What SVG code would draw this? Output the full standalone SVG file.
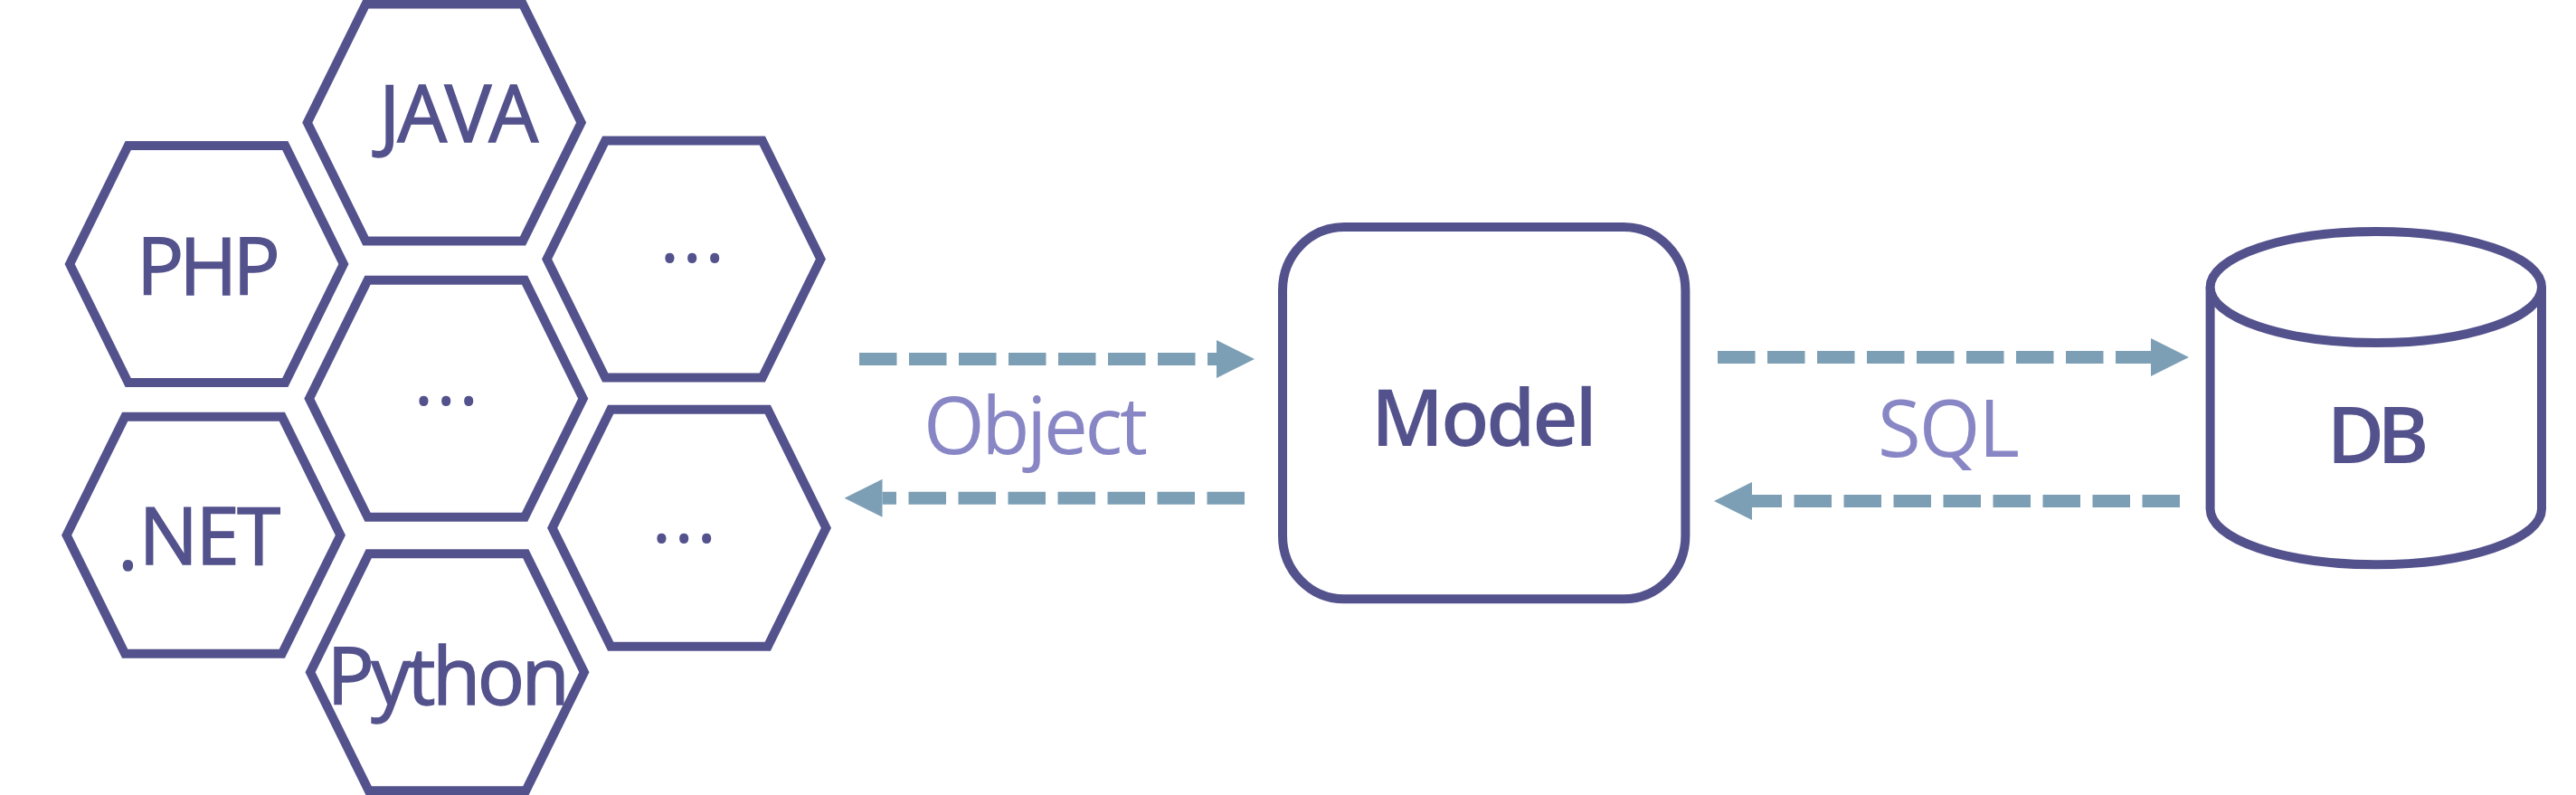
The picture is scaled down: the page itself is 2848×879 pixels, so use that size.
<svg xmlns="http://www.w3.org/2000/svg" width="2848" height="879" viewBox="0 0 2848 879">
<style>
.shape{fill:#fff;stroke:#54528c;stroke-width:10;stroke-miterlimit:10}
.t{font-family:"Open Sans","Noto Sans","Liberation Sans",sans-serif;font-size:87px;fill:#54528c;font-weight:500}
.r{stroke:#54528c;stroke-width:1.4}
.b{font-weight:600}
.l{font-weight:400;fill:#8886c5}
.dots{letter-spacing:2px}
.flow{fill:none;stroke:#7d9fb5;stroke-width:14;stroke-dasharray:41.5 13.5}
</style>
<defs>
<polygon id="hex" points="-86.8,-131 86.8,-131 151.4,0 86.8,131 -86.8,131 -151.4,0"/>
<marker id="head" markerUnits="userSpaceOnUse" markerWidth="42" markerHeight="42" refX="0" refY="21" orient="auto" viewBox="0 0 42 42"><path d="M0 0L42 21L0 42Z" fill="#7d9fb5"/></marker>
</defs>
<rect width="2848" height="879" fill="#fff"/>
<g id="node-php"><use href="#hex" class="shape" x="228.5" y="292"/><text class="t r" x="151" y="325.7" letter-spacing="-5">PHP</text></g>
<g id="node-java"><use href="#hex" class="shape" x="491.2" y="135.6"/><text class="t r" x="419" y="156.7" letter-spacing="-3">JAVA</text></g>
<g id="node-more-1"><use href="#hex" class="shape" x="756" y="286.5"/><text class="t dots" x="729" y="290">...</text></g>
<g id="node-more-2"><use href="#hex" class="shape" x="493.3" y="440.8"/><text class="t dots" x="457" y="448">...</text></g>
<g id="node-net"><use href="#hex" class="shape" x="225" y="591.7"/><text class="t r" letter-spacing="-2.5"><tspan x="130" y="630">.</tspan><tspan x="153.5" y="624">NET</tspan></text></g>
<g id="node-more-3"><use href="#hex" class="shape" x="762" y="583.8"/><text class="t dots" x="720" y="600">...</text></g>
<g id="node-python"><use href="#hex" class="shape" x="494.5" y="743.3"/><text class="t r" x="361.5" y="779" letter-spacing="-3.5">Python</text></g>
<g id="node-model"><rect class="shape" x="1418" y="251" width="445.4" height="411.3" rx="68" ry="70"/><text class="t b" x="1516" y="492.7" letter-spacing="-3">Model</text></g>
<g id="node-db"><path class="shape" d="M2443.6 317.5V562.8A183.2 61.5 0 0 0 2810 562.8V317.5"/><ellipse class="shape" cx="2626.8" cy="317.5" rx="183.2" ry="61.5"/><text class="t b" x="2572.5" y="511.7" letter-spacing="-8">DB</text></g>
<g id="connectors">
<line class="flow" x1="950" y1="397" x2="1345" y2="397" marker-end="url(#head)"/>
<line class="flow" x1="1376" y1="550.8" x2="975.5" y2="550.8" marker-end="url(#head)"/>
<line class="flow" x1="1899" y1="395" x2="2378" y2="395" marker-end="url(#head)"/>
<line class="flow" x1="2410" y1="554" x2="1937" y2="554" marker-end="url(#head)"/>
</g>
<g id="labels">
<text class="t l" x="1021" y="501.7" letter-spacing="-3.3">Object</text>
<text class="t l" x="2076" y="505" letter-spacing="-2">SQL</text>
</g>
</svg>
